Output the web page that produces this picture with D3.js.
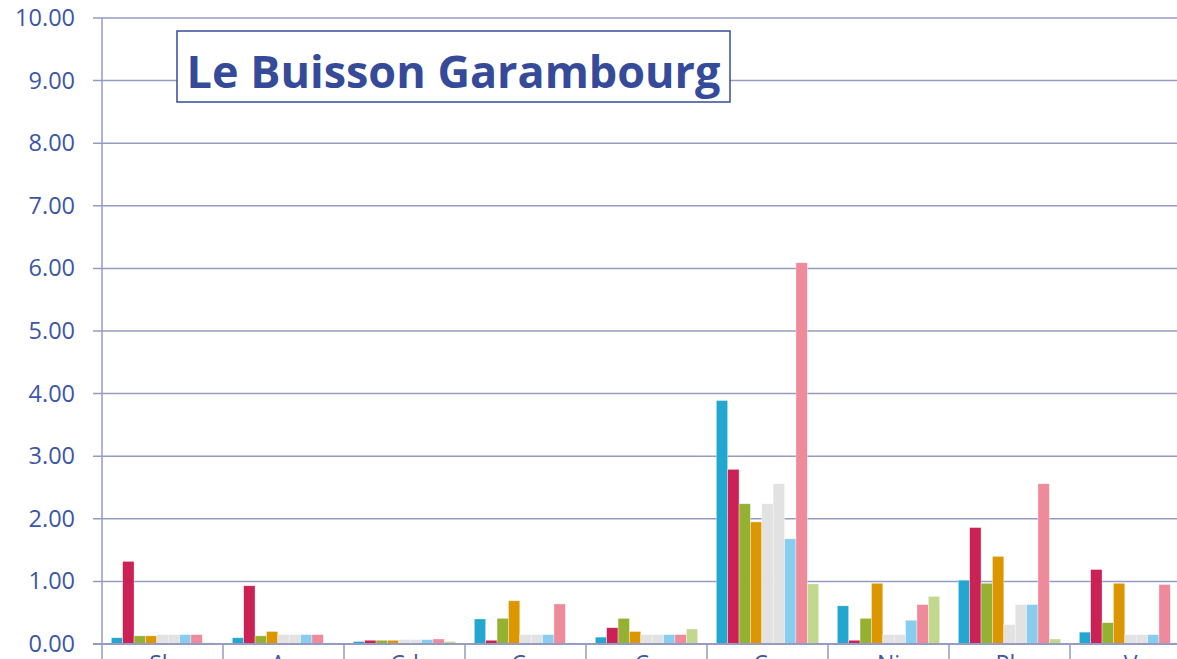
<!DOCTYPE html>
<html>
<head>
<meta charset="utf-8">
<script src="https://cdn.jsdelivr.net/npm/d3@7"></script>
<style>
  body { margin: 0; background: #fff; overflow: hidden; }
  svg { display: block; font-family: "Open Sans", "Noto Sans", sans-serif; }
  .tick text { fill: #3d56a6; font-family: "Open Sans", "Noto Sans", sans-serif; }
</style>
</head>
<body>
<script>
//chart values
var categories = ["Sb", "As", "Cd", "Co", "Cr", "Cu", "Ni", "Pb", "V"];
var seriesNames = ["s1", "s2", "s3", "s4", "s5", "s6", "s7", "s8", "s9"];
var seriesColors = ["#22a7d0", "#cc2155", "#95b132", "#dc9600", "#e2e2e2", "#e2e2e2", "#88cdee", "#ef8a9a", "#c2d88f"];
//one array per category, one value per series
var values = [
    [0.10, 1.32, 0.13, 0.13, 0.15, 0.15, 0.15, 0.15, 0.02],
    [0.10, 0.93, 0.13, 0.20, 0.15, 0.15, 0.15, 0.15, 0.02],
    [0.04, 0.06, 0.06, 0.06, 0.07, 0.07, 0.07, 0.08, 0.04],
    [0.40, 0.06, 0.41, 0.69, 0.15, 0.15, 0.15, 0.64, 0.02],
    [0.11, 0.26, 0.41, 0.20, 0.15, 0.15, 0.15, 0.15, 0.24],
    [3.89, 2.79, 2.24, 1.95, 2.24, 2.56, 1.68, 6.09, 0.96],
    [0.61, 0.06, 0.41, 0.97, 0.15, 0.15, 0.38, 0.63, 0.76],
    [1.02, 1.86, 0.97, 1.40, 0.31, 0.63, 0.63, 2.56, 0.08],
    [0.19, 1.19, 0.34, 0.97, 0.15, 0.15, 0.15, 0.95, 0.02]
];
var yTicks = [0, 1, 2, 3, 4, 5, 6, 7, 8, 9, 10];
var title = "Le Buisson Garambourg";

(function(){
    var width = 1177, height = 659,
        padLeft = 102, padTop = 18, baseY = 644,
        groupWidth = 121;

    var svg = d3.select("body").append("svg")
        .attr("width", width)
        .attr("height", height);

    var y = d3.scaleLinear().domain([0, 10]).range([baseY, padTop]);

    var x0 = d3.scaleBand()
        .domain(categories)
        .range([padLeft, padLeft + groupWidth * categories.length])
        .padding(0);

    var x1 = d3.scaleBand()
        .domain(seriesNames)
        .range([9.3, groupWidth - 9.3])
        .padding(0);

    var color = d3.scaleOrdinal().domain(seriesNames).range(seriesColors);

    var gridColor = "#959bc2";

    //horizontal gridlines
    svg.append("g")
        .selectAll("line")
        .data(yTicks)
        .enter()
        .append("line")
        .attr("x1", padLeft - 9)
        .attr("x2", width)
        .attr("y1", function(d){ return y(d); })
        .attr("y2", function(d){ return y(d); })
        .attr("stroke", gridColor)
        .attr("stroke-width", 1.5);

    //y axis labels
    var yAxis = d3.axisLeft(y)
        .tickValues(yTicks)
        .tickSize(0)
        .tickPadding(27)
        .tickFormat(d3.format(".2f"));

    var ya = svg.append("g")
        .attr("transform", "translate(" + padLeft + ",0)")
        .call(yAxis);
    ya.select(".domain").remove();
    ya.selectAll("text").style("font-size", "23.5px");

    //bars
    var groups = svg.append("g")
        .selectAll("g")
        .data(values)
        .enter()
        .append("g")
        .attr("transform", function(d, i){ return "translate(" + x0(categories[i]) + ",0)"; });

    groups.selectAll("rect")
        .data(function(d){ return d.map(function(v, j){ return {key: seriesNames[j], value: v}; }); })
        .enter()
        .append("rect")
        .attr("x", function(d){ return x1(d.key); })
        .attr("width", x1.bandwidth())
        .attr("y", function(d){ return y(d.value); })
        .attr("height", function(d){ return y(0) - y(d.value); })
        .attr("fill", function(d){ return color(d.key); })
        .attr("stroke", "rgba(255,255,255,0.6)")
        .attr("stroke-width", 0.6);

    //baseline and y axis line
    svg.append("line")
        .attr("x1", padLeft - 9).attr("x2", width)
        .attr("y1", baseY).attr("y2", baseY)
        .attr("stroke", gridColor).attr("stroke-width", 2);

    svg.append("line")
        .attr("x1", padLeft).attr("x2", padLeft)
        .attr("y1", padTop).attr("y2", height)
        .attr("stroke", gridColor).attr("stroke-width", 1.5);

    //category labels along the bottom (mostly cut off by the frame)
    var xAxis = d3.axisBottom(x0)
        .tickSize(0)
        .tickPadding(8);

    var xa = svg.append("g")
        .attr("transform", "translate(0," + baseY + ")")
        .call(xAxis);
    xa.select(".domain").remove();
    xa.selectAll("text")
        .style("font-size", "23px")
        .attr("dy", "0.88em");

    //category dividers
    svg.append("g")
        .selectAll("line")
        .data(categories)
        .enter()
        .append("line")
        .attr("x1", function(d){ return x0(d) + groupWidth; })
        .attr("x2", function(d){ return x0(d) + groupWidth; })
        .attr("y1", baseY)
        .attr("y2", height)
        .attr("stroke", gridColor)
        .attr("stroke-width", 1.5);

    //title box
    svg.append("rect")
        .attr("x", 177)
        .attr("y", 31)
        .attr("width", 553)
        .attr("height", 71)
        .attr("fill", "#fff")
        .attr("stroke", "#354b9a")
        .attr("stroke-width", 1.5);

    var titleText = svg.append("text")
        .attr("x", 453.5)
        .attr("y", 88)
        .attr("text-anchor", "middle")
        .attr("fill", "#354b9a")
        .style("font-weight", "bold")
        .style("font-size", "44px")
        .text(title);

    //fit title width to the box
    var len = titleText.node().getComputedTextLength();
    titleText.style("font-size", (44 * 534 / len) + "px");
})();
</script>
</body>
</html>
